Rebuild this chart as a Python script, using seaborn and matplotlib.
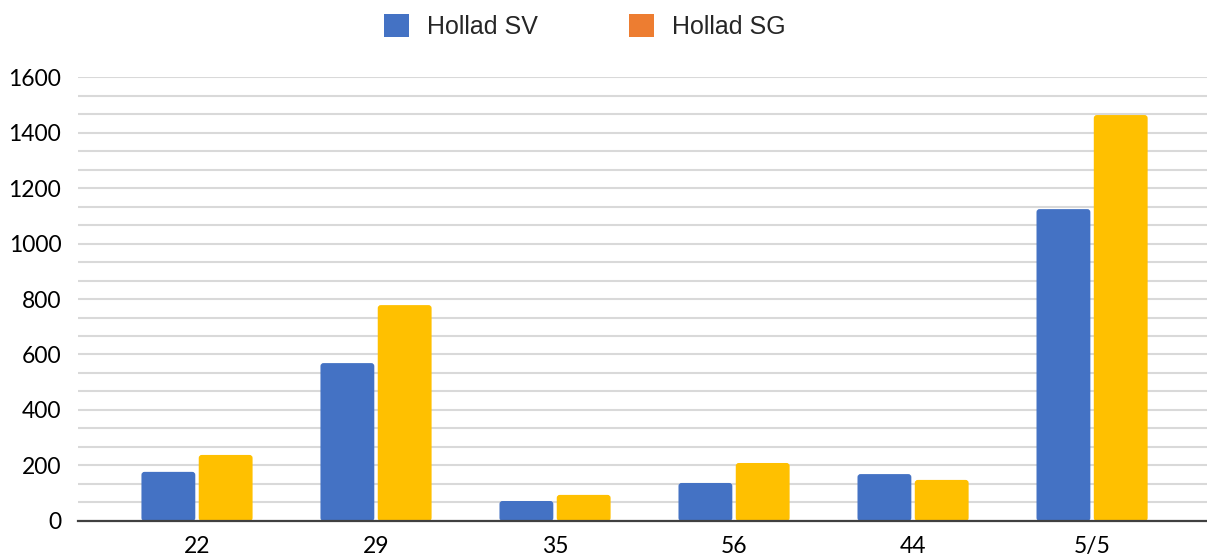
import pandas as pd
import numpy as np
import matplotlib
matplotlib.use("Agg")
import matplotlib.pyplot as plt
import seaborn as sns
from matplotlib.patches import Patch, FancyBboxPatch
from matplotlib.ticker import MultipleLocator

categories = ["22", "29", "35", "56", "44", "5/5"]
series_names = ["Hollad SV", "Hollad SG"]
sv_values = [177, 569, 72, 137, 169, 1124]
sg_values = [238, 778, 94, 209, 148, 1463]

bar_colors = ["#4472C4", "#FFC000"]
legend_colors = ["#4472C4", "#ED7D31"]

df = pd.DataFrame({
    "cat": categories * 2,
    "series": [series_names[0]] * len(categories) + [series_names[1]] * len(categories),
    "value": sv_values + sg_values,
})

sns.set_style("white")
plt.rcParams["font.family"] = ["Lato", "DejaVu Sans"]

fig = plt.figure(figsize=(12.07, 5.55), dpi=100)
ax = fig.add_axes([0.0646, 0.0613, 0.9354, 0.7999])

sns.barplot(data=df, x="cat", y="value", hue="series", palette=bar_colors,
            width=0.64, gap=0.06, ax=ax, legend=False, saturation=1)

# rounded tops like the original
for p in list(ax.patches):
    x, y = p.get_x(), p.get_y()
    w, h = p.get_width(), p.get_height()
    fb = FancyBboxPatch((x, y), w, h,
                        boxstyle="round,pad=0,rounding_size=0.017",
                        mutation_aspect=645, facecolor=p.get_facecolor(),
                        edgecolor="none", zorder=3)
    p.remove()
    ax.add_patch(fb)

ax.set_xlim(-0.665, 5.642)
ax.set_ylim(0, 1600)
ax.yaxis.set_major_locator(MultipleLocator(200))
ax.yaxis.set_minor_locator(MultipleLocator(200 / 3))
ax.grid(axis="y", which="both", color="#d9d9d9", linewidth=1.5, zorder=0)
ax.set_axisbelow(True)

for s in ["top", "right", "left"]:
    ax.spines[s].set_visible(False)
ax.spines["bottom"].set_color("#404040")
ax.spines["bottom"].set_linewidth(1.6)
ax.spines["bottom"].set_zorder(4)

ax.tick_params(axis="both", which="both", length=0, labelsize=16.5, colors="#000000")
ax.tick_params(axis="y", pad=12)
ax.tick_params(axis="x", pad=11)
ax.set_xlabel("")
ax.set_ylabel("")

handles = [Patch(facecolor=c, edgecolor="none") for c in legend_colors]
fig.legend(handles, series_names, loc="center", bbox_to_anchor=(0.4847, 0.952),
           ncol=2, frameon=False, prop={"family": "Liberation Sans", "size": 18},
           handlelength=1.0, handleheight=1.0, handletextpad=0.72,
           columnspacing=3.64)

fig.savefig("out.png", dpi=100)
